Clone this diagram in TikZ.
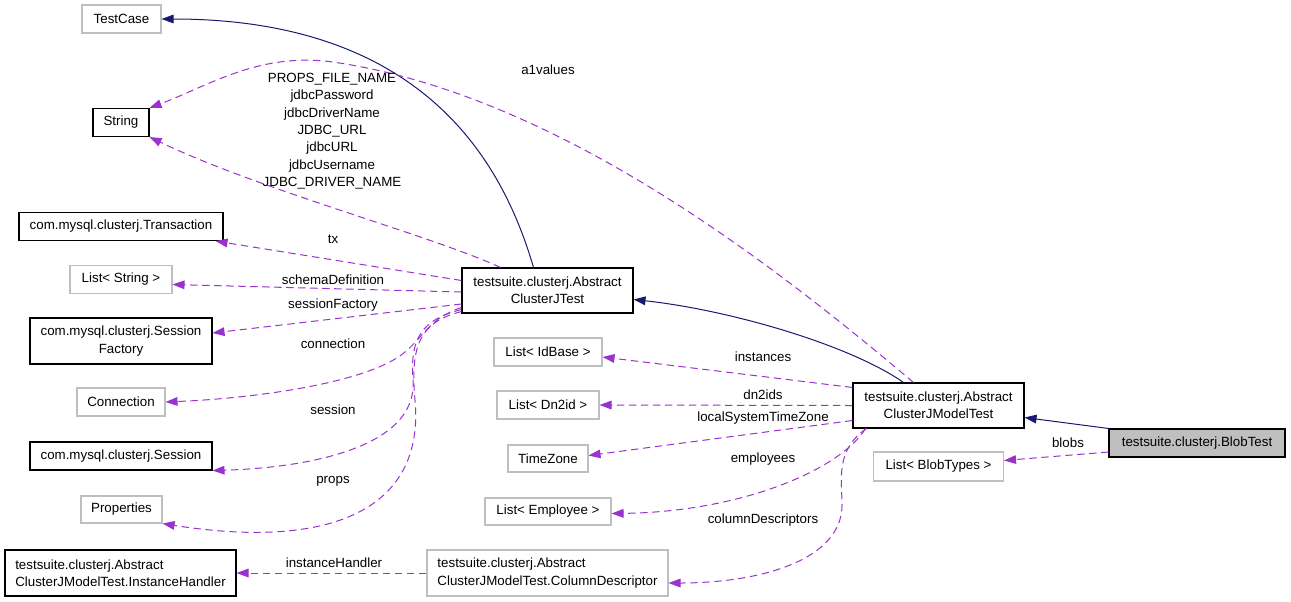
\documentclass[tikz,border=0pt]{standalone}
\usepackage{fontspec}
\setmainfont{Liberation Sans}
\usetikzlibrary{arrows.meta,calc}

\definecolor{edgeblue}{HTML}{191970}
\definecolor{edgepurple}{HTML}{9A32CD}
\definecolor{boxgray}{HTML}{BFBFBF}

\tikzset{
  boxsize/.style 2 args={minimum width=#1*0.75pt, minimum height=#2*0.75pt},
  cls/.style={draw=black, line width=0.8pt, rectangle, inner sep=0pt, align=center, font=\fontsize{10pt}{13pt}\selectfont},
  ext/.style={cls, draw=boxgray},
  lbl/.style={inner sep=0pt, align=center, font=\fontsize{10pt}{13pt}\selectfont},
  inherit/.style={color=edgeblue, line width=0.75pt, -{Triangle[length=9pt,width=6.5pt]}},
  uses/.style={color=edgepurple, line width=0.75pt, dash pattern=on 5.5pt off 3.5pt, -{Triangle[length=9pt,width=6.5pt]}},
}

\begin{document}
\begin{tikzpicture}[x=0.75pt, y=-0.75pt]
\newcommand\leftx{121}
\newcommand\midx{548}
\newcommand\rightx{938.5}
\useasboundingbox (0, 0) rectangle (1291, 601);

\node (testcase) at (\leftx+0.5, 19) [ext, boxsize={79}{28}] {TestCase};
\node (string) at (\leftx, 122.5) [cls, boxsize={56}{28}] {String};
\node (tx) at (\leftx, 226.5) [cls, boxsize={204}{28}] {com.mysql.clusterj.Transaction};
\node (liststring) at (\leftx, 279.5) [ext, boxsize={102}{28}] {List< String >};
\node (sessfactory) at (\leftx, 341) [cls, boxsize={182}{46}] {com.mysql.clusterj.Session\\Factory};
\node (connection) at (\leftx, 402) [ext, boxsize={88}{28}] {Connection};
\node (session) at (\leftx, 456) [cls, boxsize={182}{28}] {com.mysql.clusterj.Session};
\node (properties) at (\leftx+0.5, 509.5) [ext, boxsize={81}{27}] {Properties};
\node (instancehandler) at (\leftx-0.5, 573) [cls, boxsize={231}{46}, align=left] {testsuite.clusterj.Abstract\\ClusterJModelTest.InstanceHandler};

\node (act) at (\midx-0.5, 290.5) [cls, boxsize={171}{45}] {testsuite.clusterj.Abstract\\ClusterJTest};
\node (idbase) at (\midx, 352) [ext, boxsize={108}{28}] {List< IdBase >};
\node (dn2id) at (\midx, 405) [ext, boxsize={102}{28}] {List< Dn2id >};
\node (timezone) at (\midx, 458.5) [ext, boxsize={80}{27}] {TimeZone};
\node (employee) at (\midx, 511.5) [ext, boxsize={126}{27}] {List< Employee >};
\node (coldesc) at (\midx-0.5, 573) [ext, boxsize={241}{46}, align=left] {testsuite.clusterj.Abstract\\ClusterJModelTest.ColumnDescriptor};

\node (amt) at (\rightx, 405.5) [cls, boxsize={171}{45}] {testsuite.clusterj.Abstract\\ClusterJModelTest};
\node (blobtypes) at (\rightx, 466.5) [ext, boxsize={130}{29}] {List< BlobTypes >};
\node (blobtest) at (1197, 443) [cls, fill=boxgray, boxsize={176}{28}] {testsuite.clusterj.BlobTest};

\draw [inherit] ($(act.north)+(-14,0)$) .. controls (505,170) and (430,19) .. (testcase.east);
\draw [inherit] ($(amt.north)+(-35,0)$) .. controls (850,345) and (730,310) .. ($(act.east)+(0,9)$);
\draw [inherit] (blobtest.north west) -- ($(amt.east)+(0,12)$);

\draw [uses] ($(act.north)+(-47,0)$) .. controls (430,235) and (260,190) .. (string.south east);
\draw [uses] ($(amt.north)+(-25,0)$) .. controls (780,270) and (560,95) .. (333,62) .. controls (260,52) and (210,85) .. (string.north east);
\draw [uses] ($(act.west)+(0,-10)$) -- ($(tx.south east)+(-8,0)$);
\draw [uses] ($(act.west)+(0,1.5)$) -- ($(liststring.east)+(0,5)$);
\draw [uses] ($(act.west)+(0,13.5)$) -- ($(sessfactory.east)+(0,-8)$);
\draw [uses] ($(act.south west)+(0,-6)$) .. controls (430,318) and (425,335) .. (405,352) .. controls (370,382) and (260,398) .. (connection.east);
\draw [uses] ($(act.south west)+(0,-4)$) .. controls (420,320) and (410,340) .. (413,380) .. controls (418,450) and (300,468) .. (session.south east);
\draw [uses] ($(act.south west)+(0,-2)$) .. controls (420,322) and (410,345) .. (415,400) .. controls (425,510) and (330,550) .. (properties.south east);

\draw [uses] ($(amt.north west)+(0,5)$) -- ($(idbase.east)+(0,5)$);
\draw [uses] (amt.west) -- (dn2id.east);
\draw [uses] ($(amt.west)+(0,15)$) -- ($(timezone.east)+(0,-3)$);
\draw [uses] ($(amt.south west)+(13,0)$) .. controls (840,470) and (740,512) .. ($(employee.east)+(0,2)$);
\draw [uses] ($(amt.south west)+(14,0)$) .. controls (835,450) and (842,480) .. (842,505) .. controls (842,560) and (760,583) .. ($(coldesc.east)+(0,10)$);
\draw [uses] (coldesc.west) -- (instancehandler.east);
\draw [uses] ($(blobtest.west)+(0,9)$) -- ($(blobtypes.east)+(0,-6)$);

\node (lblstrings) at (332, 131) [lbl] {PROPS\_FILE\_NAME\\jdbcPassword\\jdbcDriverName\\JDBC\_URL\\jdbcURL\\jdbcUsername\\JDBC\_DRIVER\_NAME};
\node (lbltx) at (333, 239) [lbl] {tx};
\node (lblschema) at (333, 280) [lbl] {schemaDefinition};
\node (lblfactory) at (333, 305) [lbl] {sessionFactory};
\node (lblconnection) at (333, 344) [lbl] {connection};
\node (lblsession) at (333, 410) [lbl] {session};
\node (lblprops) at (333, 481) [lbl] {props};
\node (lblhandler) at (334, 563) [lbl] {instanceHandler};
\node (lbla1) at (548, 70) [lbl] {a1values};
\node (lblinstances) at (763, 357) [lbl] {instances};
\node (lbldn2ids) at (763, 395) [lbl] {dn2ids};
\node (lbltimezone) at (763, 418) [lbl] {localSystemTimeZone};
\node (lblemployees) at (763, 459) [lbl] {employees};
\node (lblcolumns) at (763, 520) [lbl] {columnDescriptors};
\node (lblblobs) at (1068, 443) [lbl] {blobs};

\end{tikzpicture}
\end{document}
